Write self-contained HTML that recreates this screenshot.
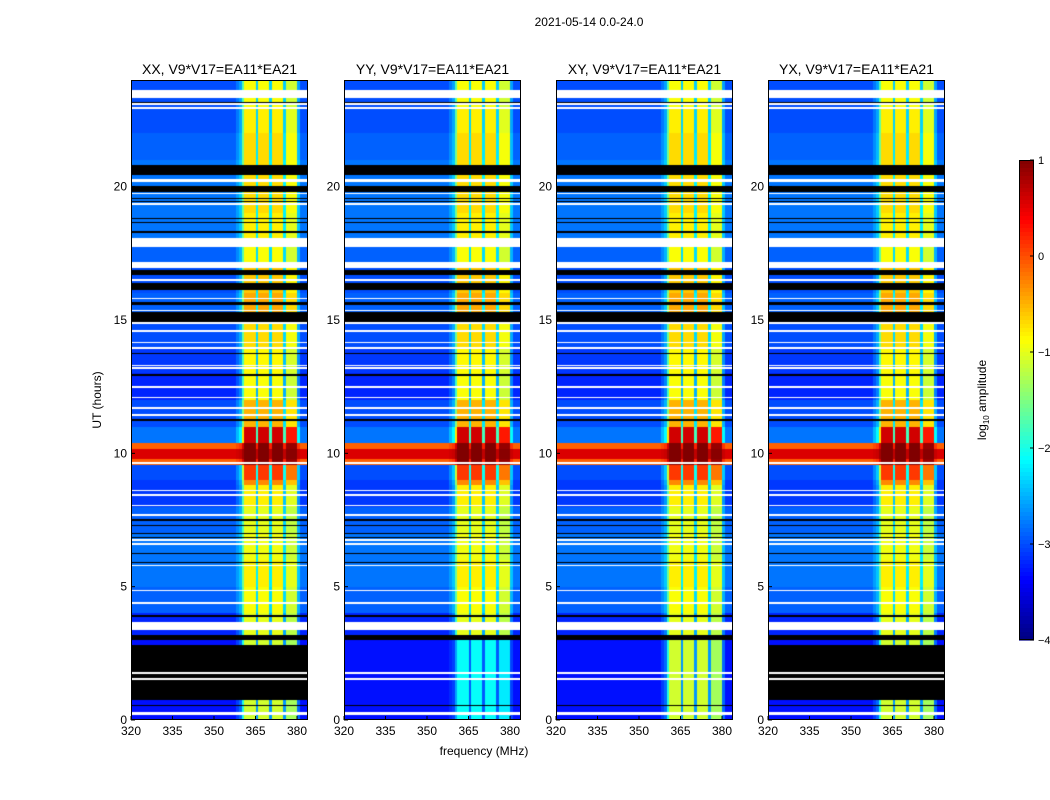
<!DOCTYPE html>
<html><head><meta charset="utf-8">
<style>
body{margin:0;background:#fff;font-family:"Liberation Sans",sans-serif;}
#root{position:relative;width:1050px;height:800px;overflow:hidden;background:#fff;}
canvas{position:absolute;}
</style></head>
<body>
<div id="root">
<svg id="svg" width="1050" height="800" style="position:absolute;left:0;top:0"></svg>
</div>
<script>
// ---- data ----
const panelTitles = ["XX, V9*V17=EA11*EA21","YY, V9*V17=EA11*EA21","XY, V9*V17=EA11*EA21","YX, V9*V17=EA11*EA21"];
const panelBlackBlock = [true,false,false,true];
const panelLowRfi = [0,1,0,0];
const xTicks = [320,335,350,365,380];
const yTicks = [0,5,10,15,20];
const cbTicks = [1,0,-1,-2,-3,-4];
// background log amplitude per hour (0..23)
const bgByHour = [-3.3,-3.3,-3.3,-3.2,-2.9,-2.8,-2.8,-2.9,-3.1,-3.0,-2.8,-3.0,-3.2,-3.1,-3.0,-2.9,-3.0,-2.9,-2.8,-2.8,-2.8,-2.9,-3.0,-3.0];
// RFI band level per hour
const rfiByHour = [-1.1,-1.1,-1.1,-1.0,-0.9,-0.8,-0.95,-1.0,-0.8,-0.4,0.1,-0.5,-0.9,-0.85,-0.7,-0.45,-0.6,-0.9,-0.8,-0.7,-0.7,-0.7,-0.8,-0.9];
// RFI fraction per 1 MHz bin starting at 320
const rfiShape = [0,0,0,0,0,0,0,0,0,0, 0,0,0,0,0,0,0,0,0,0, 0,0,0,0,0,0,0,0,0,0, 0,0,0,0,0,0,0,0,0.1,0.2, 0.6,1,1,1,1,0.3,1,1,1,1, 0.3,1,1,1,1,0.3,0.9,0.9,0.9,0.9, 0.2,0,0,0];
const stormCore = [9.56,10.4];
const stormWide = [8.8,11.0];
const whiteFlags = [[23.32,23.62],[23.07,23.12],[22.92,22.97],[20.17,20.29],[19.73,19.78],[19.32,19.37],[17.74,18.07],[16.95,17.17],[16.47,16.52],[15.79,15.84],[15.34,15.39],[14.86,14.91],[14.56,14.61],[14.14,14.19],[13.92,13.97],[13.28,13.33],[13.17,13.22],[12.46,12.51],[12.08,12.13],[11.67,11.72],[11.41,11.46],[9.61,9.66],[8.59,8.64],[8.41,8.46],[8.03,8.08],[7.66,7.71],[6.72,6.77],[6.57,6.62],[5.78,5.83],[4.84,4.89],[4.36,4.41],[3.37,3.67],[1.73,1.79],[1.51,1.57],[0.19,0.3]];
const blackFlags = [[23.14,23.19],[20.44,20.81],[19.8,20.02],[19.54,19.59],[19.43,19.48],[18.79,18.84],[18.64,18.69],[18.27,18.32],[16.69,16.87],[16.12,16.39],[15.56,15.67],[14.92,15.3],[13.73,13.78],[12.91,12.96],[11.22,11.27],[7.47,7.52],[7.28,7.33],[6.98,7.03],[6.83,6.88],[6.23,6.28],[5.89,5.94],[3.87,3.92],[3.0,3.19],[0.53,0.58]];
const blackBlock = [0.75,2.81];
// ---- layout ----
const panelX = [131,344,556,768], PW=177, PT=80, PH=640;
const fMin=320, fPerPx=1/2.767, hMax=24;
const xScale = (f,i)=>panelX[i]+(f-fMin)/fPerPx;
const yScale = h=>PT+PH-(h/hMax)*PH;
const cbX=1019, cbW=15, cbTop=160, cbH=480, vMin=-4, vMax=1;
const cbY = v=>cbTop+(vMax-v)/(vMax-vMin)*cbH;
function jet(t){const c=x=>Math.max(0,Math.min(1,x));return [c(1.5-Math.abs(4*t-3)),c(1.5-Math.abs(4*t-2)),c(1.5-Math.abs(4*t-1))].map(x=>Math.round(x*255));}
function inAny(h,list){for(const r of list){if(h>=r[0]&&h<=r[1])return true;}return false;}
function value(i,h,f){
  const hi=Math.min(23,Math.max(0,Math.floor(h)));
  const bi=Math.min(rfiShape.length-1,Math.max(0,Math.floor(f-fMin)));
  let s=rfiShape[bi];
  let bg=bgByHour[hi], rf=rfiByHour[hi];
  if(panelLowRfi[i]&&h<3.0) rf=-2.1;
  if(h>=stormWide[0]&&h<=stormWide[1]) rf+=0.5;
  let v=bg*(1-s)+rf*s;
  if(h>=stormCore[0]&&h<=stormCore[1]){
    const mid=(stormCore[0]+stormCore[1])/2;
    const core=Math.abs(h-mid)<0.18;
    const nb=core?0.55:-0.1;
    v=nb*(1-s)+1.0*s;
  }
  return v;
}
const svg=document.getElementById('svg');
const root=document.getElementById('root');
const NS='http://www.w3.org/2000/svg';
function add(tag,attrs,parent){const e=document.createElementNS(NS,tag);for(const k in attrs)e.setAttribute(k,attrs[k]);(parent||svg).appendChild(e);return e;}
function txt(x,y,s,anchor,size,rot){const e=add('text',{x:x,y:y,'text-anchor':anchor||'middle','font-size':size||12,'font-family':'Liberation Sans, sans-serif',fill:'#000'});if(rot)e.setAttribute('transform','rotate(-90 '+x+' '+y+')');e.textContent=s;return e;}

let t=txt(589,26,"2021-05-14 0.0-24.0");



panelTitles.forEach((title,i)=>{
  const cv=document.createElement('canvas');
  cv.width=PW;cv.height=PH;cv.style.left=panelX[i]+'px';cv.style.top=PT+'px';
  
  
  root.insertBefore(cv,svg);
  const ctx=cv.getContext('2d');const img=ctx.createImageData(PW,PH);
  for(let y=0;y<PH;y++){
    const h=hMax*(1-(y+0.5)/PH);
    let flag=null;
    if(inAny(h,whiteFlags))flag=[255,255,255];
    else if(inAny(h,blackFlags)||(panelBlackBlock[i]&&h>=blackBlock[0]&&h<=blackBlock[1]))flag=[0,0,0];
    for(let x=0;x<PW;x++){
      const f=fMin+(x+0.5)*fPerPx;
      let c=flag||jet((value(i,h,f)-vMin)/(vMax-vMin));
      const k=(y*PW+x)*4;img.data[k]=c[0];img.data[k+1]=c[1];img.data[k+2]=c[2];img.data[k+3]=255;
    }
  }
  ctx.putImageData(img,0,0);
  const g=add('g',{});
  
  
  const fr=add('rect',{x:panelX[i]+0.5,y:PT+0.5,width:PW-1,height:PH-1,fill:'none',stroke:'#000','stroke-width':1},g);
  
  
  const tt=txt(panelX[i]+PW/2,74,title,'middle',14);g.appendChild(tt);
  
  
  xTicks.forEach(v=>{const x=xScale(v,i);
    add('line',{x1:x,x2:x,y1:PT+PH,y2:PT+PH-4,stroke:'#000'},g);
    const l=txt(x,PT+PH+15,String(v),'middle',12);g.appendChild(l);
    
    });
  yTicks.forEach(v=>{const y=yScale(v);
    add('line',{x1:panelX[i],x2:panelX[i]+4,y1:y,y2:y,stroke:'#000'},g);
    const l=txt(panelX[i]-4,y+4,String(v),'end',12);g.appendChild(l);
    
    });
});
t=txt(484,755,"frequency (MHz)");


t=txt(101,400,"UT (hours)",'middle',12,true);


// colorbar
const N=120;
for(let k=0;k<N;k++){
  const v1=vMax-(k/N)*(vMax-vMin), v2=vMax-((k+1)/N)*(vMax-vMin);
  const c=jet(((v1+v2)/2-vMin)/(vMax-vMin));
  const r=add('rect',{x:cbX,y:cbY(v1),width:cbW,height:cbY(v2)-cbY(v1)+0.6,fill:'rgb('+c.join(',')+')'});
  
  
}
const cbf=add('rect',{x:cbX+0.5,y:cbTop+0.5,width:cbW-1,height:cbH-1,fill:'none',stroke:'#000'});


cbTicks.forEach(v=>{const y=cbY(v);
  add('line',{x1:cbX+cbW-4,x2:cbX+cbW,y1:y,y2:y,stroke:'#000'});
  const l=txt(cbX+cbW+4,y+4,v<0?'\u2212'+(-v):String(v),'start',11);
  
  });
const cl=add('text',{x:986,y:400,'text-anchor':'middle','font-size':12,'font-family':'Liberation Sans, sans-serif',transform:'rotate(-90 986 400)'});
cl.innerHTML='log<tspan font-size="8" dy="3">10</tspan><tspan dy="-3"> amplitude</tspan>';


</script>
</body></html>
